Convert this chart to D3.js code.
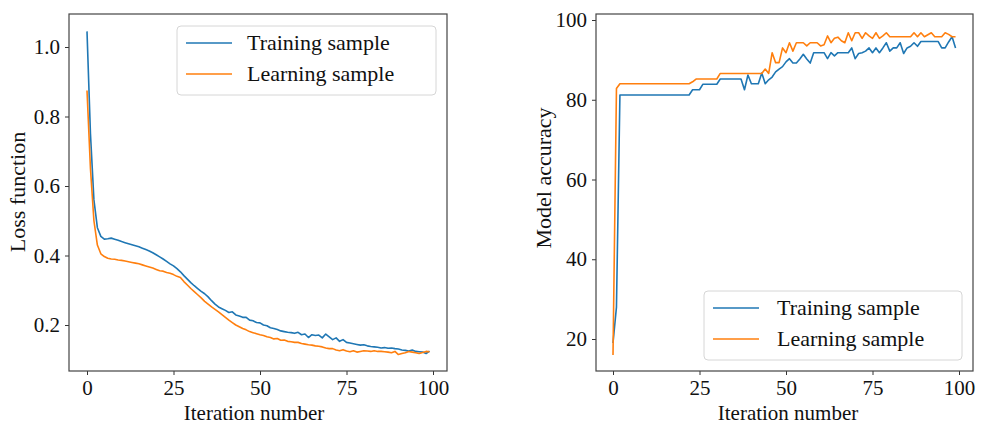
<!DOCTYPE html>
<html>
<head>
<meta charset="utf-8">
<script src="https://cdn.jsdelivr.net/npm/d3@7"></script>
<style>
  body { margin: 0; background: #fff; }
  svg { display: block; font-family: "Liberation Serif", "Times New Roman", serif; }
</style>
</head>
<body>
<div id="chart"></div>
<script>
var iterations = d3.range(0, 100);
var xTicks = [0, 25, 50, 75, 100];
var lossTicks = [0.2, 0.4, 0.6, 0.8, 1.0];
var accTicks = [20, 40, 60, 80, 100];
var seriesNames = ["Training sample", "Learning sample"];
var colors = ["#1f77b4", "#ff7f0e"];

// loss per iteration
var trainLoss = [
  1.045, 0.75, 0.56, 0.48, 0.455, 0.447, 0.448, 0.45, 0.447, 0.444,
  0.44, 0.437, 0.434, 0.431, 0.428, 0.425, 0.421, 0.417, 0.413, 0.408,
  0.402, 0.396, 0.39, 0.383, 0.376, 0.37, 0.362, 0.353, 0.342, 0.332,
  0.322, 0.313, 0.305, 0.297, 0.29, 0.281, 0.27, 0.26, 0.252, 0.247,
  0.242, 0.236, 0.238, 0.229, 0.226, 0.222, 0.222, 0.214, 0.212, 0.207,
  0.206, 0.2, 0.198, 0.192, 0.19, 0.187, 0.183, 0.181, 0.179, 0.178,
  0.176, 0.179, 0.172, 0.174, 0.164, 0.172, 0.17, 0.171, 0.163, 0.174,
  0.166, 0.158, 0.163, 0.153, 0.158, 0.15, 0.148, 0.146, 0.144, 0.142,
  0.143, 0.14, 0.138, 0.137, 0.136, 0.134, 0.135, 0.133, 0.134, 0.132,
  0.131, 0.128, 0.127, 0.125, 0.128, 0.124, 0.123, 0.122, 0.118, 0.125
];
var learnLoss = [
  0.875, 0.65, 0.5, 0.43, 0.405, 0.397, 0.392, 0.39, 0.389, 0.387,
  0.386, 0.384, 0.382, 0.38, 0.378, 0.376, 0.373, 0.37, 0.367, 0.364,
  0.36, 0.356, 0.355, 0.351, 0.349, 0.345, 0.34, 0.337, 0.325, 0.315,
  0.305, 0.296, 0.287, 0.278, 0.268, 0.26, 0.252, 0.245, 0.238, 0.23,
  0.222, 0.214, 0.207, 0.2, 0.195, 0.19, 0.186, 0.181, 0.178, 0.175,
  0.172, 0.17, 0.166, 0.164, 0.16, 0.161, 0.156, 0.157, 0.153, 0.152,
  0.15, 0.15, 0.147, 0.145, 0.143, 0.142, 0.14, 0.139, 0.137, 0.134,
  0.132, 0.132, 0.128, 0.126, 0.129, 0.125, 0.123, 0.126, 0.122, 0.124,
  0.126, 0.125, 0.124, 0.126, 0.124, 0.124, 0.123, 0.122, 0.12, 0.124,
  0.115, 0.118, 0.12, 0.124, 0.122, 0.12, 0.118, 0.121, 0.124, 0.123
];

// accuracy per iteration
var trainAcc = [
  19, 28, 81.2, 81.2, 81.2, 81.2, 81.2, 81.2, 81.2, 81.2,
  81.2, 81.2, 81.2, 81.2, 81.2, 81.2, 81.2, 81.2, 81.2, 81.2,
  81.2, 81.2, 81.2, 82.5, 82.5, 82.5, 83.9, 83.9, 83.9, 83.9,
  83.9, 85.2, 85.2, 85.2, 85.2, 85.2, 85.2, 85.2, 82.5, 86.2,
  84, 84, 84, 86.7, 84, 85, 85.7, 87, 87.7, 88.3,
  89.5, 90.3, 89.2, 89.2, 90.2, 91.4, 90.2, 89.2, 91.8, 91.8,
  91.8, 91.8, 90.3, 91.8, 91, 91.8, 91.8, 91.8, 91.8, 93,
  90.3, 91.6, 91.8, 92.2, 93, 91.8, 93, 91.8, 93, 94.3,
  92.2, 93, 93, 94.3, 91.6, 93, 93.4, 94.3, 93.4, 94.6,
  94.6, 94.6, 94.6, 94.6, 94.6, 93, 93, 94.5, 95.8, 93
];
var learnAcc = [
  16, 82.8, 84, 84, 84, 84, 84, 84, 84, 84,
  84, 84, 84, 84, 84, 84, 84, 84, 84, 84,
  84, 84, 84, 84.5, 85.2, 85.2, 85.2, 85.2, 85.2, 85.2,
  85.2, 86.6, 86.6, 86.6, 86.6, 86.6, 86.6, 86.6, 86.6, 86.6,
  86.6, 86.6, 86.6, 86.6, 87.7, 86.6, 91.8, 89.3, 89.3, 93,
  91.8, 94.3, 92.2, 94.3, 94.3, 94.3, 93.5, 94.3, 94.3, 94.3,
  93.5, 93.8, 96, 94.3, 95.4, 95.7, 94.8, 94.3, 96.8, 94.8,
  96.8, 96.8, 95.4, 96.8, 96, 95.4, 96.8, 95.4, 96, 96.8,
  95.8, 95.8, 95.8, 95.8, 95.8, 95.8, 95.8, 96.8, 95.8, 96.8,
  95.8, 96.3, 96.8, 95.8, 95.8, 95.8, 96.8, 96.4, 95.8, 95.8
];

var svg = d3
  .select("#chart")
  .append("svg")
  .attr("width", 986)
  .attr("height", 430);

function styleAxis(a) {
  a.select(".domain").remove();
  a.selectAll("line").attr("stroke", "#333");
  a.selectAll("text")
    .attr("font-size", "21px")
    .attr("font-family", "Liberation Serif")
    .attr("fill", "#111");
}

function drawPanel(opt) {
  var g = svg.append("g");

  var x = d3.scaleLinear().domain([0, 100]).range(opt.xRange);
  var y = d3.scaleLinear().domain(opt.yDomain).range(opt.yRange);

  // axes
  g.append("g")
    .attr("transform", "translate(0," + opt.frame.bottom + ")")
    .call(d3.axisBottom(x).tickValues(xTicks).tickSize(4).tickPadding(5))
    .call(styleAxis);

  g.append("g")
    .attr("transform", "translate(" + opt.frame.left + ",0)")
    .call(d3.axisLeft(y).tickValues(opt.yTicks).tickFormat(opt.yFormat).tickSize(4).tickPadding(5))
    .call(styleAxis);

  // lines
  var line = d3
    .line()
    .x(function (d, i) { return x(iterations[i]); })
    .y(function (d) { return y(d); });

  opt.series.forEach(function (s, k) {
    g.append("path")
      .datum(s)
      .attr("fill", "none")
      .attr("stroke", colors[k])
      .attr("stroke-width", 1.6)
      .attr("stroke-linejoin", "round")
      .attr("d", line);
  });

  // frame
  g.append("rect")
    .attr("x", opt.frame.left)
    .attr("y", opt.frame.top)
    .attr("width", opt.frame.right - opt.frame.left)
    .attr("height", opt.frame.bottom - opt.frame.top)
    .attr("fill", "none")
    .attr("stroke", "#444")
    .attr("stroke-width", 1.2);

  // titles
  g.append("text")
    .attr("x", opt.xTitle[0])
    .attr("y", opt.xTitle[1])
    .attr("text-anchor", "middle")
    .attr("font-size", "21px")
    .attr("fill", "#111")
    .text("Iteration number");

  g.append("text")
    .attr("transform", "translate(" + opt.yTitle[0] + "," + opt.yTitle[1] + ") rotate(-90)")
    .attr("text-anchor", "middle")
    .attr("dy", "0.35em")
    .attr("font-size", "22px")
    .attr("fill", "#111")
    .text(opt.yLabel);

  // legend
  var lg = g.append("g").attr("transform", "translate(" + opt.legend[0] + "," + opt.legend[1] + ")");
  lg.append("rect")
    .attr("width", opt.legend[2])
    .attr("height", 69)
    .attr("rx", 4)
    .attr("fill", "#fff")
    .attr("stroke", "#d6d6d6");
  seriesNames.forEach(function (name, k) {
    var ly = 17 + k * 31;
    lg.append("line")
      .attr("x1", 9)
      .attr("x2", 55)
      .attr("y1", ly)
      .attr("y2", ly)
      .attr("stroke", colors[k])
      .attr("stroke-width", 1.6);
    lg.append("text")
      .attr("x", 70 + opt.textShift)
      .attr("y", ly)
      .attr("dy", "0.32em")
      .attr("font-size", "22px")
      .attr("fill", "#111")
      .text(name);
  });
}

drawPanel({
  frame: { left: 69, right: 447, top: 14, bottom: 371 },
  xRange: [87, 433],
  yDomain: [0.2, 1.0],
  yRange: [325, 47],
  yTicks: lossTicks,
  yFormat: d3.format(".1f"),
  series: [trainLoss, learnLoss],
  xTitle: [254, 420],
  yTitle: [17, 192],
  yLabel: "Loss function",
  legend: [177, 26, 259],
  textShift: 0
});

drawPanel({
  frame: { left: 596, right: 973, top: 14, bottom: 371 },
  xRange: [613, 959],
  yDomain: [20, 100],
  yRange: [339, 20],
  yTicks: accTicks,
  yFormat: d3.format("d"),
  series: [trainAcc, learnAcc],
  xTitle: [788, 420],
  yTitle: [543, 178],
  yLabel: "Model accuracy",
  legend: [704, 291, 258],
  textShift: 3
});
</script>
</body>
</html>
